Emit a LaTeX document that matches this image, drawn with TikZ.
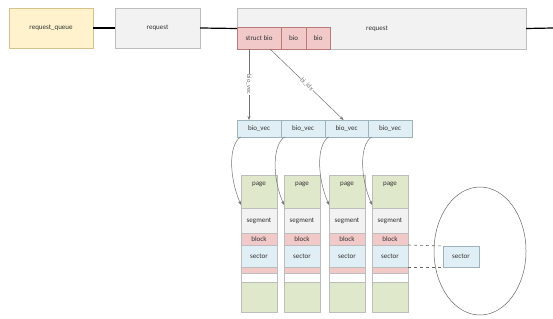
\documentclass[tikz,border=0pt]{standalone}
\usepackage{fontspec}
\setmainfont{Carlito}
\usetikzlibrary{arrows.meta,shapes.geometric}
\definecolor{yfill}{HTML}{FFF2CC}
\definecolor{ydraw}{HTML}{D6C28A}
\definecolor{gfill}{HTML}{F2F2F2}
\definecolor{gdraw}{HTML}{BDBDBD}
\definecolor{rfill}{HTML}{F2C9C9}
\definecolor{rdraw}{HTML}{B87A7A}
\definecolor{bfill}{HTML}{E0EFF5}
\definecolor{bdraw}{HTML}{9FB3BA}
\definecolor{pfill}{HTML}{DFE8CB}
\definecolor{txt}{HTML}{333333}
\begin{document}
\begin{tikzpicture}[x=1pt,y=-1pt,
  cell/.style={draw=gdraw, line width=0.6pt, inner sep=0pt, outer sep=0pt,
    font=\fontsize{7}{8}\selectfont, text=txt, anchor=north west},
  topline/.style={line width=1.2pt, black},
  conn/.style={draw=black!55, line width=0.5pt, -{Stealth[length=4pt,width=3pt]}},
  lab/.style={font=\fontsize{6.5}{7}\selectfont, text=black!55, fill=white, inner sep=0.5pt}]
\useasboundingbox (0,0) rectangle (553,318);

% top row
\node[cell, draw=ydraw, fill=yfill, minimum width=84pt, minimum height=40pt] (rq) at (9,8) {request\_queue};
\node[cell, fill=gfill, minimum width=85pt, minimum height=40pt] (r1) at (115,8) {request};
\node[cell, fill=gfill, minimum width=289pt, minimum height=41pt, text depth=1pt] (r2) at (237,8) {\hspace*{-9pt}request};
\coordinate (rend) at (553,28);
\draw[topline] (rq.east) -- (r1.west);
\draw[topline] (r1.east) -- (r2.west);
\draw[topline] (r2.east) -- (rend);

\node[cell, draw=rdraw, fill=rfill, minimum width=44pt, minimum height=22pt] (sb) at (237,27) {struct bio};
\node[cell, draw=rdraw, fill=rfill, minimum width=25pt, minimum height=22pt] (b1) at (281,27) {bio};
\node[cell, draw=rdraw, fill=rfill, minimum width=24pt, minimum height=22pt] (b2) at (306,27) {bio};

% bio_vec row
\foreach \x/\w [count=\i] in {237/44,281/44,325/43,368/44} {
  \node[cell, draw=bdraw, fill=bfill, minimum width=\w pt, minimum height=17pt] (bv\i) at (\x,120) {bio\_vec};
}

% arrows from struct bio
\coordinate (sbA) at (249,49);
\coordinate (sbB) at (270,49);
\draw[conn] (sbA) -- (sbA |- bv1.north) node[midway, lab, rotate=-90] {bio\_vec};
\draw[conn] (sbB) -- ([xshift=-3pt]bv3.north) node[midway, lab, sloped] {bi\_idx};

% columns
\foreach \L [count=\i] in {241,284,329,372} {
  \node[cell, fill=pfill, minimum width=36pt, minimum height=33pt,
    label={[font=\fontsize{7}{8}\selectfont, text=txt, anchor=north, yshift=-4pt]north:page}] (p\i) at (\L,175) {};
  \node[cell, fill=gfill, minimum width=36pt, minimum height=25pt] (sg\i) at (\L,208) {segment};
  \node[cell, fill=rfill, minimum width=36pt, minimum height=12pt] (bl\i) at (\L,233) {block};
  \node[cell, fill=bfill, minimum width=36pt, minimum height=22pt] (s\i) at (\L,245) {sector};
  \node[cell, fill=rfill, minimum width=36pt, minimum height=6pt] (q\i) at (\L,267) {};
  \node[cell, fill=white, minimum width=36pt, minimum height=9pt] (w\i) at (\L,273) {};
  \node[cell, fill=pfill, minimum width=36pt, minimum height=30pt] (e\i) at (\L,282) {};
  \draw[conn] ([xshift=3.5pt]bv\i.south west) .. controls +(-12,8) and +(-12,-28) .. ([yshift=3pt]p\i.south west);
}

% disk
\node[draw=black!60, line width=0.5pt, ellipse, minimum width=92pt, minimum height=128pt, inner sep=0pt] (disk) at (480,251) {};
\node[cell, draw=bdraw, fill=bfill, minimum width=36pt, minimum height=21pt] (sec) at (443,246) {sector};
\draw[draw=black!60, line width=0.6pt, dashed] (s4.north east) -- (sec.north west);
\draw[draw=black!60, line width=0.6pt, dashed] (s4.south east) -- (sec.south west);
\end{tikzpicture}
\end{document}
